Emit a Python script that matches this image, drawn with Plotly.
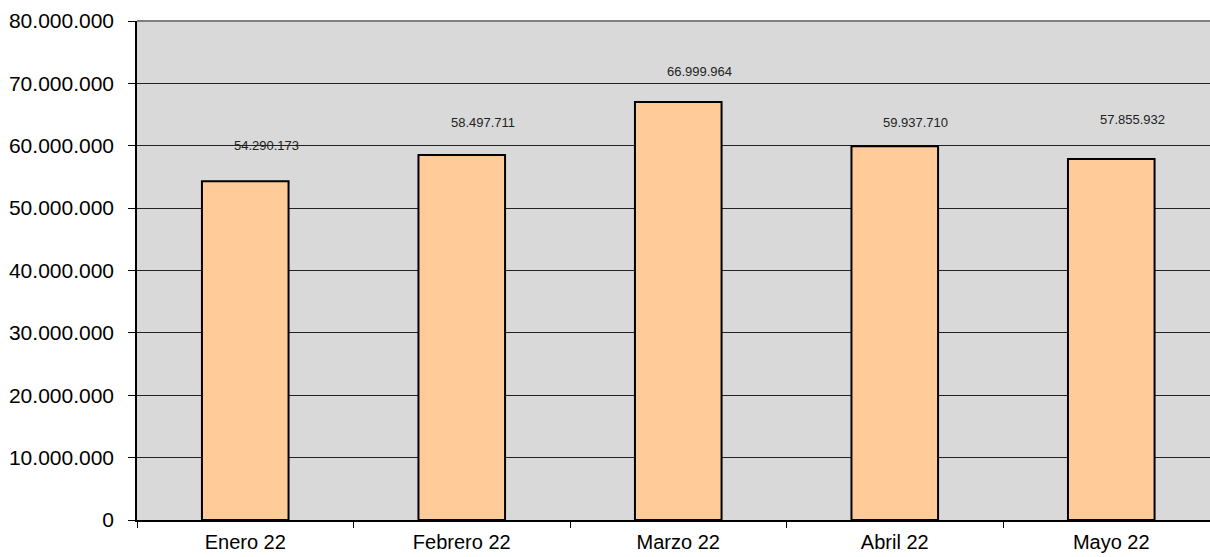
import plotly.graph_objects as go

months = ["Enero 22", "Febrero 22", "Marzo 22", "Abril 22", "Mayo 22"]
values = [54290173, 58497711, 66999964, 59937710, 57855932]
y_ticks = [0, 10000000, 20000000, 30000000, 40000000, 50000000, 60000000, 70000000, 80000000]

label_dy = [36, 33, 31, 24, 40]

fig = go.Figure()
fig.add_trace(go.Bar(
    x=months, y=values, width=0.4,
    marker=dict(color="#FFCC99", line=dict(color="black", width=2)),
    hoverinfo="skip",
))

for m, v, dy in zip(months, values, label_dy):
    fig.add_annotation(
        x=m, y=v, text=f"{v:,}".replace(",", "."), showarrow=False,
        xshift=21, yshift=dy, yanchor="middle",
        font=dict(family="Liberation Sans, Arial", size=13, color="#222"),
    )

fig.update_layout(
    width=1210, height=557,
    margin=dict(l=137, r=0, t=21, b=37),
    paper_bgcolor="white", plot_bgcolor="#D9D9D9",
    separators=",.",
    showlegend=False,
    font=dict(family="Liberation Sans, Arial", color="black"),
    bargap=0.6,
)
fig.update_xaxes(
    type="category", range=[-0.5, 4.456],
    showline=True, linecolor="black", linewidth=1.5,
    ticks="outside", tickson="boundaries", ticklen=6, tickcolor="black",
    tickfont=dict(size=20), ticklabelstandoff=3, showgrid=False,
)
fig.update_yaxes(
    range=[0, 80000000], tickvals=y_ticks, tickformat=",d",
    showline=True, linecolor="black", linewidth=1.5,
    ticks="outside", ticklen=7, tickcolor="black",
    tickfont=dict(size=21), ticklabelstandoff=10,
    showgrid=True, gridcolor="#222222", gridwidth=1,
    zeroline=False,
)
fig.add_shape(type="line", xref="paper", yref="paper", x0=0, x1=1, y0=1, y1=1,
              line=dict(color="#808080", width=2))

fig.write_html(
    "out.html",
    config={"displayModeBar": False},
    post_script="document.body.style.margin='0';document.body.style.overflow='hidden';",
)
